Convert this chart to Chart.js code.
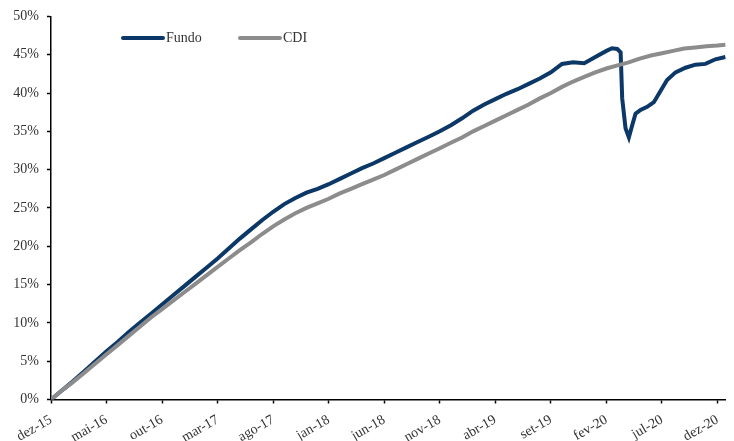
<!DOCTYPE html>
<html lang="pt">
  <head>
    <meta charset="UTF-8" />
    <title>Fundo x CDI</title>
    <style>
      * {
        box-sizing: border-box;
        margin: 0;
        padding: 0;
      }
      body,
      html {
        width: 100%;
        height: 100%;
        background-color: white;
        overflow: hidden;
      }
      .chart__container {
        width: 734px;
        height: 441px;
        position: relative;
      }
    </style>
  </head>
  <body>
    <div class="chart__container">
      <canvas id="returnChart" width="734" height="441"></canvas>
    </div>
    <script src="https://cdn.jsdelivr.net/npm/chart.js"></script>
    <script>
      // eixo x: meses desde dez-15, um rótulo a cada 5 meses
      const monthLabels = [
        "dez-15", "mai-16", "out-16", "mar-17", "ago-17", "jan-18", "jun-18",
        "nov-18", "abr-19", "set-19", "fev-20", "jul-20", "dez-20",
      ];
      const yTicks = [0, 5, 10, 15, 20, 25, 30, 35, 40, 45, 50];

      // retorno acumulado (%)
      const fundoMonths = [
        0, 1, 2, 3, 4, 5, 6, 7, 8, 9, 10, 11, 12, 13, 14, 15, 16, 17, 18, 19,
        20, 21, 22, 23, 24, 25, 26, 27, 28, 29, 30, 31, 32, 33, 34, 35, 36, 37,
        38, 39, 40, 41, 42, 43, 44, 45, 46, 47, 48, 49, 50, 50.5, 50.97, 51.28,
        51.42, 51.72, 52.02, 52.32, 52.62, 53.07, 53.67, 54.27, 54.72, 55.46,
        56.22, 57.12, 58.01, 58.91, 59.81, 60.71,
      ];
      const fundoValues = [
        0, 1.2, 2.4, 3.7, 5.0, 6.3, 7.5, 8.8, 10.0, 11.2, 12.4, 13.6, 14.8,
        16.0, 17.2, 18.4, 19.7, 21.0, 22.2, 23.4, 24.5, 25.5, 26.3, 27.0, 27.5,
        28.1, 28.8, 29.5, 30.2, 30.8, 31.5, 32.2, 32.9, 33.6, 34.3, 35.0, 35.8,
        36.7, 37.7, 38.5, 39.2, 39.9, 40.5, 41.2, 41.9, 42.7, 43.8, 44.0, 43.9,
        44.7, 45.5, 45.85, 45.75, 45.3, 39.3, 35.4, 34.2, 35.8, 37.3, 37.8,
        38.2, 38.8, 39.9, 41.7, 42.7, 43.3, 43.7, 43.8, 44.4, 44.7,
      ];

      const cdiMonths = [
        0, 1, 2, 3, 4, 5, 6, 7, 8, 9, 10, 11, 12, 13, 14, 15, 16, 17, 18, 19,
        20, 21, 22, 23, 24, 25, 26, 27, 28, 29, 30, 31, 32, 33, 34, 35, 36, 37,
        38, 39, 40, 41, 42, 43, 44, 45, 46, 47, 48, 49, 50, 51, 52, 53, 54, 55,
        56, 57, 58, 59, 60, 60.71,
      ];
      const cdiValues = [
        0, 1.2, 2.3, 3.5, 4.7, 5.9, 7.1, 8.3, 9.5, 10.7, 11.8, 12.9, 14.0, 15.1,
        16.2, 17.3, 18.4, 19.5, 20.5, 21.6, 22.6, 23.5, 24.3, 25.0, 25.6, 26.2,
        26.9, 27.5, 28.1, 28.7, 29.3, 30.0, 30.7, 31.4, 32.1, 32.8, 33.5, 34.2,
        35.0, 35.7, 36.4, 37.1, 37.8, 38.5, 39.3, 40.0, 40.8, 41.5, 42.1, 42.7,
        43.2, 43.6, 44.0, 44.5, 44.9, 45.2, 45.5, 45.8, 45.95, 46.1, 46.2, 46.3,
      ];

      const fontFamily = "'Liberation Serif', 'DejaVu Serif', serif";
      const textColor = "#333333";

      // legenda desenhada dentro da área do gráfico, como no original
      const insideLegend = {
        id: "insideLegend",
        afterDatasetsDraw(chart) {
          const ctx = chart.ctx;
          const items = [
            { ds: chart.data.datasets[0], x: 123 },
            { ds: chart.data.datasets[1], x: 240 },
          ];
          const y = 38;
          ctx.save();
          ctx.font = "14px " + fontFamily;
          ctx.textBaseline = "middle";
          items.forEach((item) => {
            ctx.strokeStyle = item.ds.borderColor;
            ctx.lineWidth = 4;
            ctx.lineCap = "round";
            ctx.beginPath();
            ctx.moveTo(item.x, y);
            ctx.lineTo(item.x + 40, y);
            ctx.stroke();
            ctx.fillStyle = textColor;
            ctx.fillText(item.ds.label, item.x + 43, y);
          });
          ctx.restore();
        },
      };

      document.addEventListener("DOMContentLoaded", function () {
        const ctx = document.getElementById("returnChart").getContext("2d");

        new Chart(ctx, {
          type: "line",
          data: {
            datasets: [
              {
                label: "Fundo",
                data: fundoMonths.map((m, i) => ({ x: m, y: fundoValues[i] })),
                borderColor: "#0c3868",
                borderWidth: 4,
                pointRadius: 0,
                fill: false,
                order: 2,
              },
              {
                label: "CDI",
                data: cdiMonths.map((m, i) => ({ x: m, y: cdiValues[i] })),
                borderColor: "#8c8c8c",
                borderWidth: 4,
                pointRadius: 0,
                fill: false,
                order: 1,
              },
            ],
          },
          options: {
            responsive: false,
            animation: false,
            devicePixelRatio: 1,
            layout: {
              padding: { top: 14, right: 7, left: 0, bottom: 0 },
            },
            plugins: {
              legend: { display: false },
              tooltip: { enabled: false },
            },
            scales: {
              x: {
                type: "linear",
                min: 0,
                max: 60.75,
                afterFit: (scale) => {
                  scale.height = 41.5;
                },
                afterBuildTicks: (scale) => {
                  scale.ticks = monthLabels.map((_, i) => ({ value: i * 5 }));
                },
                border: { color: "#000000", width: 1.5 },
                grid: {
                  drawOnChartArea: false,
                  drawTicks: true,
                  tickLength: 4,
                  tickColor: "#000000",
                  tickWidth: 1.5,
                },
                ticks: {
                  autoSkip: false,
                  maxRotation: 30,
                  minRotation: 30,
                  padding: 8,
                  color: textColor,
                  font: { family: fontFamily, size: 14 },
                  callback: function (value) {
                    return monthLabels[Math.round(value / 5)];
                  },
                },
              },
              y: {
                min: 0,
                max: 50,
                afterFit: (scale) => {
                  scale.width = 51;
                },
                afterBuildTicks: (scale) => {
                  scale.ticks = yTicks.map((v) => ({ value: v }));
                },
                border: { color: "#000000", width: 1.5 },
                grid: {
                  drawOnChartArea: false,
                  drawTicks: true,
                  tickLength: 4,
                  tickColor: "#000000",
                  tickWidth: 1.5,
                },
                ticks: {
                  autoSkip: false,
                  padding: 8,
                  color: textColor,
                  font: { family: fontFamily, size: 14 },
                  callback: function (value) {
                    return value + "%";
                  },
                },
              },
            },
          },
          plugins: [insideLegend],
        });
      });
    </script>
  </body>
</html>
